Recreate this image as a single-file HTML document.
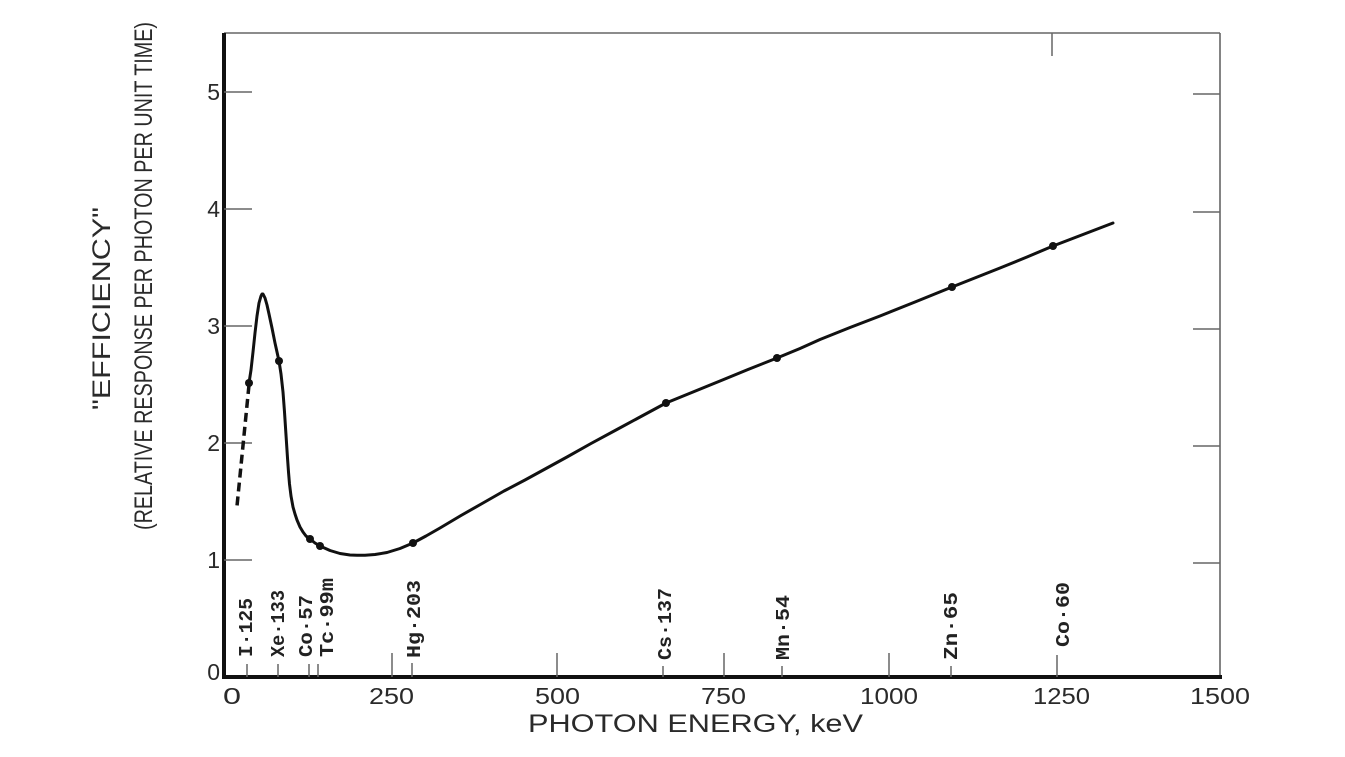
<!DOCTYPE html>
<html><head><meta charset="utf-8"><style>
html,body{margin:0;padding:0;background:#fff;}
svg{display:block;}
text{font-family:"Liberation Sans",sans-serif;fill:#2a2a2a;}
.m{font-family:"Liberation Mono",monospace;font-weight:bold;fill:#222;}
</style></head><body>
<svg width="1345" height="757" viewBox="0 0 1345 757" xmlns="http://www.w3.org/2000/svg">
<rect width="1345" height="757" fill="#fff"/>
<!-- frame -->
<line x1="224" y1="33" x2="1220" y2="33" stroke="#666" stroke-width="1.6"/>
<line x1="1220" y1="33" x2="1220" y2="677" stroke="#666" stroke-width="1.6"/>
<line x1="224" y1="33" x2="224" y2="679" stroke="#111" stroke-width="4"/>
<line x1="222" y1="677" x2="1222" y2="677" stroke="#111" stroke-width="4"/>
<!-- ticks -->
<g stroke="#666" stroke-width="1.5">
<line x1="224" y1="92" x2="252" y2="92"/>
<line x1="224" y1="209" x2="252" y2="209"/>
<line x1="224" y1="326" x2="252" y2="326"/>
<line x1="224" y1="443" x2="252" y2="443"/>
<line x1="224" y1="560" x2="252" y2="560"/>
<line x1="1193" y1="94" x2="1220" y2="94"/>
<line x1="1193" y1="212" x2="1220" y2="212"/>
<line x1="1193" y1="329" x2="1220" y2="329"/>
<line x1="1193" y1="446" x2="1220" y2="446"/>
<line x1="1193" y1="563" x2="1220" y2="563"/>
<line x1="1052" y1="33" x2="1052" y2="56"/>
<line x1="392" y1="653" x2="392" y2="677"/>
<line x1="557" y1="653" x2="557" y2="677"/>
<line x1="724" y1="653" x2="724" y2="677"/>
<line x1="889" y1="653" x2="889" y2="677"/>
<line x1="247" y1="664" x2="247" y2="677"/>
<line x1="278" y1="664" x2="278" y2="677"/>
<line x1="309" y1="664" x2="309" y2="677"/>
<line x1="318" y1="664" x2="318" y2="677"/>
<line x1="412" y1="663" x2="412" y2="677"/>
<line x1="663" y1="666" x2="663" y2="677"/>
<line x1="782" y1="666" x2="782" y2="677"/>
<line x1="951" y1="666" x2="951" y2="677"/>
<line x1="1057" y1="655" x2="1057" y2="677"/>
</g>
<!-- y tick labels -->
<g font-size="23" text-anchor="end">
<text x="220" y="100">5</text>
<text x="220" y="217">4</text>
<text x="220" y="334">3</text>
<text x="220" y="451">2</text>
<text x="220" y="568">1</text>
<text x="220" y="680">0</text>
</g>
<!-- x tick labels -->
<g font-size="23">
<text x="223" y="704" textLength="18" lengthAdjust="spacingAndGlyphs">0</text>
<text x="369" y="704" textLength="45" lengthAdjust="spacingAndGlyphs">250</text>
<text x="535" y="704" textLength="45" lengthAdjust="spacingAndGlyphs">500</text>
<text x="701" y="704" textLength="45" lengthAdjust="spacingAndGlyphs">750</text>
<text x="860" y="704" textLength="58" lengthAdjust="spacingAndGlyphs">1000</text>
<text x="1033" y="704" textLength="57" lengthAdjust="spacingAndGlyphs">1250</text>
<text x="1190" y="704" textLength="60" lengthAdjust="spacingAndGlyphs">1500</text>
</g>
<text x="528" y="732" font-size="25" textLength="335" lengthAdjust="spacingAndGlyphs">PHOTON ENERGY, keV</text>
<!-- y title -->
<text transform="translate(110,410) rotate(-90)" font-size="25" fill="#444" textLength="203" lengthAdjust="spacingAndGlyphs">"EFFICIENCY"</text>
<text transform="translate(152,530) rotate(-90)" font-size="25" fill="#444" textLength="508" lengthAdjust="spacingAndGlyphs">(RELATIVE RESPONSE PER PHOTON PER UNIT TIME)</text>
<!-- isotope labels -->
<g font-size="19">
<text class="m" transform="translate(252,657) rotate(-90)" textLength="59" lengthAdjust="spacingAndGlyphs">I·125</text>
<text class="m" transform="translate(284,657) rotate(-90)" textLength="67" lengthAdjust="spacingAndGlyphs">Xe·133</text>
<text class="m" transform="translate(312,657) rotate(-90)" textLength="62" lengthAdjust="spacingAndGlyphs">Co·57</text>
<text class="m" transform="translate(333,657) rotate(-90)" textLength="79" lengthAdjust="spacingAndGlyphs">Tc·99m</text>
<text class="m" transform="translate(420,658) rotate(-90)" textLength="78" lengthAdjust="spacingAndGlyphs">Hg·203</text>
<text class="m" transform="translate(671,660) rotate(-90)" textLength="72" lengthAdjust="spacingAndGlyphs">Cs·137</text>
<text class="m" transform="translate(789,660) rotate(-90)" textLength="65" lengthAdjust="spacingAndGlyphs">Mn·54</text>
<text class="m" transform="translate(957,660) rotate(-90)" textLength="68" lengthAdjust="spacingAndGlyphs">Zn·65</text>
<text class="m" transform="translate(1069,647) rotate(-90)" textLength="65" lengthAdjust="spacingAndGlyphs">Co·60</text>
</g>
<!-- dashed extrapolation -->
<line x1="249" y1="385" x2="237" y2="506" stroke="#111" stroke-width="3.5" stroke-dasharray="9,5"/>
<!-- curve -->
<polyline fill="none" stroke="#111" stroke-width="3" stroke-linejoin="round" stroke-linecap="round"
points="249,383 251,370 253,352 255,333 257,316 259,303 261,296 262,294 263,294 265,298 267,305 269,314 272,328 275,343 277,352 279,361 281,374 283,392 284.5,412 286,435 287.5,458 288.5,472 289.5,484 291,496 293,507 295,514 297,520 300,527 303,532 306,536 310,539 315,543 320,546 330,550.5 340,553.5 350,555 357,555.3 365,555.2 375,554.5 387,552.5 400,548.5 413,543 426,536 440,528 461,515.5 483,503 504,491 525,480 546,468.5 567,457 591,443.5 616,430 641,416.5 666,403 693,392 720,381 748,369.5 777,358 800,348.5 820,339.5 850,327.5 880,316 915,302 952,287 976,277.5 1000,268 1027,257 1053,246 1083,234.5 1113,223"/>
<!-- data points -->
<g fill="#111">
<circle cx="249" cy="383" r="4"/>
<circle cx="279" cy="361" r="4"/>
<circle cx="310" cy="539" r="4"/>
<circle cx="320" cy="546" r="4"/>
<circle cx="413" cy="543" r="4"/>
<circle cx="666" cy="403" r="4"/>
<circle cx="777" cy="358" r="4"/>
<circle cx="952" cy="287" r="4"/>
<circle cx="1053" cy="246" r="4"/>
</g>
</svg>
</body></html>
